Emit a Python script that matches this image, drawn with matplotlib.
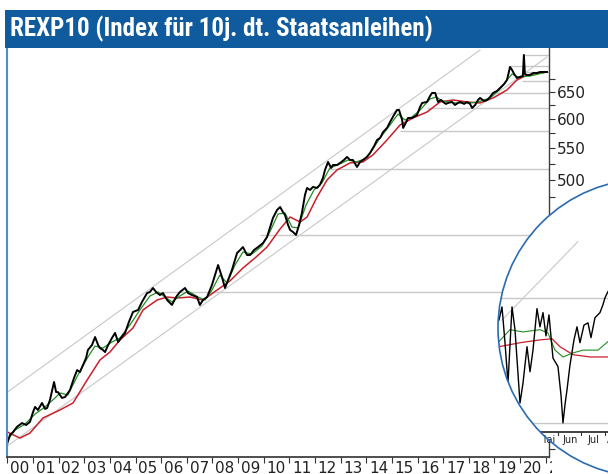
import numpy as np
import matplotlib.pyplot as plt
from matplotlib.patches import Circle, Rectangle
from matplotlib.ticker import FixedLocator, FixedFormatter, NullFormatter, NullLocator
from matplotlib.transforms import Bbox, TransformedBbox, blended_transform_factory

W, H = 608, 474

# REXP10 Kursverlauf (dezimale Jahre / Indexpunkte)
kurs_t = [2000.00, 2000.10, 2000.22, 2000.37, 2000.57, 2000.73, 2000.88, 2001.00, 2001.08, 2001.19,
          2001.35, 2001.47, 2001.55, 2001.66, 2001.82, 2001.90, 2001.97, 2002.13, 2002.25, 2002.44,
          2002.60, 2002.72, 2002.83, 2002.95, 2003.07, 2003.14, 2003.30, 2003.42, 2003.54, 2003.61,
          2003.73, 2003.81, 2003.93, 2004.08, 2004.20, 2004.32, 2004.43, 2004.59, 2004.74, 2004.90,
          2005.10, 2005.25, 2005.45, 2005.56, 2005.68, 2005.80, 2005.95, 2006.07, 2006.23, 2006.42,
          2006.58, 2006.73, 2006.93, 2007.05, 2007.20, 2007.40, 2007.51, 2007.63, 2007.79, 2007.98,
          2008.22, 2008.37, 2008.49, 2008.61, 2008.76, 2008.96, 2009.08, 2009.19, 2009.35, 2009.47,
          2009.62, 2009.78, 2009.97, 2010.13, 2010.24, 2010.36, 2010.52, 2010.64, 2010.75, 2010.83,
          2010.95, 2011.03, 2011.14, 2011.26, 2011.38, 2011.49, 2011.61, 2011.69, 2011.81, 2011.92,
          2012.08, 2012.19, 2012.31, 2012.39, 2012.51, 2012.63, 2012.70, 2012.86, 2012.98, 2013.13,
          2013.25, 2013.37, 2013.48, 2013.64, 2013.76, 2013.87, 2014.03, 2014.15, 2014.31, 2014.42,
          2014.54, 2014.66, 2014.81, 2014.93, 2015.08, 2015.20, 2015.28, 2015.40, 2015.44, 2015.56,
          2015.63, 2015.79, 2015.98, 2016.10, 2016.18, 2016.37, 2016.49, 2016.57, 2016.69, 2016.80,
          2016.92, 2017.00, 2017.11, 2017.19, 2017.35, 2017.46, 2017.58, 2017.66, 2017.82, 2017.93,
          2018.05, 2018.13, 2018.25, 2018.36, 2018.44, 2018.60, 2018.72, 2018.83, 2018.95, 2019.10,
          2019.22, 2019.38, 2019.49, 2019.61, 2019.69, 2019.77, 2019.88, 2020.00, 2020.11, 2020.15,
          2020.19, 2020.27, 2020.39, 2020.51, 2020.66, 2020.78, 2020.94, 2021.05]
kurs_v = [229.1, 234.6, 236.7, 240.3, 243.1, 241.7, 243.9, 251.2, 255.0, 252.7,
          258.0, 253.5, 254.2, 260.3, 274.6, 266.5, 266.5, 261.9, 262.6, 268.1,
          277.9, 284.5, 282.8, 288.8, 294.9, 301.9, 306.4, 313.8, 306.4, 303.7,
          301.9, 300.1, 306.4, 312.9, 317.6, 309.2, 312.9, 317.6, 328.1, 338.0,
          340.0, 348.2, 357.5, 358.6, 362.9, 358.6, 355.4, 357.5, 350.2, 345.1,
          353.3, 358.6, 362.9, 357.5, 355.4, 353.3, 345.1, 350.2, 353.3, 366.1,
          388.5, 375.0, 362.9, 371.6, 382.8, 402.6, 406.2, 409.8, 400.2, 400.2,
          406.2, 409.8, 414.6, 422.2, 433.7, 446.7, 457.4, 461.5, 454.7, 450.7,
          437.5, 431.1, 428.6, 424.8, 437.5, 453.4, 478.3, 488.3, 485.4, 489.8,
          488.3, 492.7, 503.0, 515.1, 527.4, 518.2, 522.8, 522.8, 525.9, 530.6,
          535.4, 530.6, 530.6, 519.7, 527.5, 530.6, 535.4, 541.8, 553.1, 563.0,
          566.4, 576.6, 583.5, 593.9, 606.3, 615.4, 615.4, 597.5, 583.5, 593.9,
          601.1, 601.1, 606.3, 621.0, 628.4, 630.3, 641.6, 647.4, 647.4, 630.3,
          634.0, 630.3, 626.6, 628.4, 630.3, 624.7, 628.4, 630.3, 626.6, 630.3,
          626.6, 619.1, 624.7, 634.0, 637.8, 632.1, 634.0, 639.7, 647.4, 651.1,
          657.0, 664.8, 672.7, 699.2, 693.0, 684.8, 676.7, 678.7, 680.7, 724.6,
          684.8, 682.7, 682.7, 686.8, 686.8, 688.9, 688.9, 688.9]

# gleitender Durchschnitt kurz (gruen)
gd38_t = [2000.00, 2000.30, 2000.69, 2001.08, 2001.47, 2001.86, 2002.05, 2002.36, 2002.75, 2003.14,
          2003.42, 2003.73, 2004.08, 2004.39, 2004.78, 2005.17, 2005.56, 2005.88, 2006.15, 2006.42,
          2006.73, 2007.05, 2007.44, 2007.71, 2007.98, 2008.29, 2008.57, 2008.88, 2009.19, 2009.54,
          2009.93, 2010.24, 2010.56, 2010.83, 2011.10, 2011.34, 2011.65, 2011.96, 2012.27, 2012.58,
          2012.89, 2013.29, 2013.60, 2013.95, 2014.23, 2014.54, 2014.93, 2015.24, 2015.51, 2015.79,
          2016.10, 2016.49, 2016.73, 2016.96, 2017.46, 2018.05, 2018.36, 2018.83, 2019.22, 2019.49,
          2019.69, 2019.92, 2020.39, 2021.05]
gd38_v = [231.1, 238.1, 242.4, 249.7, 255.0, 261.9, 265.8, 264.2, 280.3, 295.7,
          305.5, 303.7, 309.2, 312.9, 325.2, 340.0, 354.4, 358.6, 353.3, 348.2,
          354.4, 359.6, 353.3, 350.2, 360.7, 377.1, 368.3, 388.5, 403.8, 401.4,
          411.0, 428.6, 452.0, 453.4, 434.9, 433.7, 464.2, 485.4, 495.6, 518.2,
          522.8, 530.6, 527.5, 532.2, 546.6, 566.4, 588.7, 608.1, 597.5, 602.9,
          615.4, 635.9, 639.7, 632.1, 628.4, 628.4, 630.3, 637.8, 655.0, 672.7,
          684.8, 678.7, 680.7, 688.9]

# gleitender Durchschnitt lang (rot)
gd200_t = [2000.00, 2000.49, 2000.88, 2001.39, 2002.05, 2002.56, 2003.11, 2003.61, 2004.00, 2004.39,
           2004.90, 2005.29, 2005.84, 2006.23, 2006.62, 2007.12, 2007.63, 2008.18, 2008.68, 2009.19,
           2009.66, 2010.13, 2010.64, 2011.03, 2011.42, 2011.69, 2012.08, 2012.47, 2012.86, 2013.37,
           2013.87, 2014.26, 2014.81, 2015.32, 2015.83, 2016.37, 2016.88, 2017.39, 2017.93, 2018.44,
           2018.95, 2019.49, 2019.88, 2020.27, 2021.05]
gd200_v = [236.7, 232.5, 236.0, 246.8, 252.7, 258.0, 276.2, 293.1, 300.1, 311.0,
           322.3, 340.0, 350.2, 353.3, 352.3, 353.3, 350.2, 360.7, 370.5, 385.1,
           396.7, 409.8, 432.4, 448.0, 441.3, 448.0, 475.2, 500.0, 515.1, 526.0,
           527.5, 538.6, 563.0, 588.7, 601.1, 611.7, 630.3, 634.0, 630.3, 628.4,
           637.8, 653.1, 672.7, 682.7, 688.9]

# horizontale Marken: Niveau und Startzeitpunkt
marken_v = [724.6, 702.0, 688.9, 670.7, 647.4, 619.1, 578.3, 516.6, 424.8, 358.6]
marken_t0 = [2020.11, 2019.53, 2020.08, 2020.08, 2016.68, 2016.37, 2015.32, 2012.51, 2009.86, 2005.90]

# Trendkanal
kanal_oben_t = [2000.0, 2018.44]
kanal_oben_v = [266.5, 735.4]
kanal_unten_t = [2000.0, 2021.05]
kanal_unten_v = [227.1, 720.0]

jahre = list(range(2000, 2022))
jahr_labels = [f"{j % 100:02d}" for j in jahre]

y_labels = [250, 300, 350, 400, 450, 500, 550, 600, 650]
y_minor = [225, 275, 325, 375, 425, 475, 525, 575, 625, 675]

# Lupe: letzte Monate (Monatszahl / Indexpunkte)
lupe_t = [3.489, 3.617, 3.745, 3.872, 4.043, 4.170, 4.383, 4.511, 4.681, 4.809,
          4.936, 5.106, 5.234, 5.362, 5.489, 5.617, 5.787, 6.000, 6.128, 6.213,
          6.298, 6.383, 6.511, 6.681, 6.809, 6.936, 7.106, 7.277, 7.404, 7.574,
          7.787, 7.915, 8.000, 8.128]
lupe_v = [686.1, 688.4, 682.1, 675.0, 688.4, 684.4, 671.5, 675.0, 681.4, 677.0,
          680.8, 688.1, 684.9, 687.4, 683.3, 687.0, 679.4, 677.9, 672.9, 668.0,
          671.2, 673.8, 678.2, 682.6, 684.9, 682.1, 685.2, 685.6, 683.0, 686.5,
          687.4, 688.8, 690.0, 691.1]
lupe_gd38_t = [3.489, 3.957, 4.511, 5.234, 5.574, 5.872, 6.213, 6.638, 7.064, 7.702, 8.128]
lupe_gd38_v = [682.3, 684.4, 684.0, 684.4, 683.8, 680.8, 679.6, 680.3, 680.8, 680.8, 682.3]
lupe_gd200_t = [3.489, 4.383, 5.234, 5.745, 6.085, 6.638, 7.362, 8.128]
lupe_gd200_v = [681.4, 682.1, 682.6, 682.8, 681.4, 680.0, 679.6, 679.6]
lupe_marken_v = [690.0, 668.0]
lupe_kanal_t = [3.617, 6.851]
lupe_kanal_v = [686.1, 699.9]
monate = ["Apr", "Mai", "Jun", "Jul", "Aug"]
monate_start = [4, 5, 6, 7, 8]

GRAU = "#c8c8c8"
ROT = "#c8202c"
GRUEN = "#1f8f1f"
BLAU = "#0f5b9e"

fig = plt.figure(figsize=(W / 100, H / 100), dpi=100)

x_end = 2021.13
ax = fig.add_axes([7.4 / W, 17 / H, (549 - 7.4) / W, (426 - 17) / H])
ax.set_yscale("log")
ax.set_xlim(2000.0, x_end)
ax.set_ylim(219.8, 739.7)

ax.plot(kanal_oben_t, kanal_oben_v, color=GRAU, lw=0.8)
ax.plot(kanal_unten_t, kanal_unten_v, color=GRAU, lw=0.8)
ax.hlines(marken_v, marken_t0, x_end, color=GRAU, lw=1.0)
ax.plot(gd200_t, gd200_v, color=ROT, lw=1.1)
ax.plot(gd38_t, gd38_v, color=GRUEN, lw=0.9)
ax.plot(kurs_t, kurs_v, color="black", lw=1.4)

ax.yaxis.tick_right()
ax.yaxis.set_major_locator(FixedLocator(y_labels))
ax.yaxis.set_major_formatter(FixedFormatter([str(v) for v in y_labels]))
ax.yaxis.set_minor_locator(FixedLocator(y_minor))
ax.yaxis.set_minor_formatter(NullFormatter())
ax.tick_params(axis="y", which="both", direction="out", length=4, width=0.8,
               color="#333333", labelsize=11, labelcolor="#222222", pad=2)

ax.xaxis.set_major_locator(FixedLocator(jahre))
ax.xaxis.set_major_formatter(NullFormatter())
ax.xaxis.set_minor_locator(NullLocator())
ax.tick_params(axis="x", direction="out", length=4, width=0.8, color="#333333")

# Jahreslabels rechts neben dem Jahresstrich, am rechten Rand abgeschnitten
trans = blended_transform_factory(ax.transData, ax.transAxes)
ax_breite = (549 - 7.4)
clip = TransformedBbox(Bbox([[0, -1], [1 + 3 / ax_breite, 1]]), ax.transAxes)
for j, lab in zip(jahre, jahr_labels):
    t = ax.text(j + 0.11, -0.027, lab, transform=trans, ha="left", va="center",
                fontsize=11, color="#222222")
    t.set_clip_box(clip)
    t.set_clip_on(True)

ax.spines["top"].set_visible(False)
ax.spines["left"].set_color("#4d8fcb")
ax.spines["left"].set_linewidth(1.5)
ax.spines["bottom"].set_color("#404040")
ax.spines["bottom"].set_linewidth(1.3)
ax.spines["right"].set_color("#404040")
ax.spines["right"].set_linewidth(1.0)

# Titelbalken
fig.patches.append(Rectangle((5 / W, 426 / H), 603 / W, 38 / H, transform=fig.transFigure,
                             facecolor=BLAU, edgecolor="none", zorder=1))
fig.text(10 / W, (H - 29) / H, "REXP10 (Index für 10j. dt. Staatsanleihen)", color="white",
         fontsize=18, fontweight="bold", va="center", ha="left", zorder=3,
         family=["Liberation Sans Narrow", "Roboto Condensed", "Roboto", "DejaVu Sans"])

# Lupe (kreisfoermiger Ausschnitt)
mitte = (6.47, 1.46)
radius = 1.49
hintergrund = Circle(mitte, radius, transform=fig.dpi_scale_trans, facecolor="white",
                     edgecolor="none", zorder=2)
fig.patches.append(hintergrund)

ax_in = fig.add_axes([498 / W, 42 / H, 298 / W, 253 / H], zorder=5)
ax_in.set_xlim(3.447, 16.13)
ax_in.set_ylim(666.4, 710.9)
ax_in.axis("off")

ymin = 666.4
ax_in.hlines(lupe_marken_v, 3.447, 16.13, color=GRAU, lw=1.0)
ax_in.plot(lupe_kanal_t, lupe_kanal_v, color=GRAU, lw=0.8)
ax_in.plot(lupe_gd200_t, lupe_gd200_v, color=ROT, lw=0.9)
ax_in.plot(lupe_gd38_t, lupe_gd38_v, color=GRUEN, lw=0.8)
ax_in.plot(lupe_t, lupe_v, color="black", lw=1.0)
ax_in.plot([3.447, 16.13], [ymin, ymin], color="#333333", lw=1.3)
for m in monate_start:
    ax_in.plot([m, m], [ymin, ymin - 0.55], color="#333333", lw=0.8)

lupe_clip = Circle(mitte, radius, transform=fig.dpi_scale_trans)
for a in list(ax_in.lines) + list(ax_in.collections):
    a.set_clip_box(None)
    a.set_clip_on(True)
    a.set_clip_path(lupe_clip)

# Monatsnamen: Text laesst sich in Agg nur rechteckig beschneiden,
# daher Sehne des Kreises auf Hoehe der Beschriftung als Grenze
y_text_px = H - 436
dy = (y_text_px / 100 - mitte[1])
links = mitte[0] - np.sqrt(radius ** 2 - dy ** 2)
text_clip = TransformedBbox(Bbox([[links, 0], [W / 100, mitte[1]]]), fig.dpi_scale_trans)
for m, lab in zip(monate_start, monate):
    t = ax_in.text(m + 0.5, ymin - 1.45, lab, ha="center", va="center", fontsize=7,
                   color="#222222")
    t.set_clip_box(text_clip)
    t.set_clip_on(True)

rand = Circle(mitte, radius, transform=fig.dpi_scale_trans, facecolor="none",
              edgecolor="#2a6cb2", lw=1.2, zorder=6)
fig.patches.append(rand)

fig.savefig("out.png", dpi=100)
